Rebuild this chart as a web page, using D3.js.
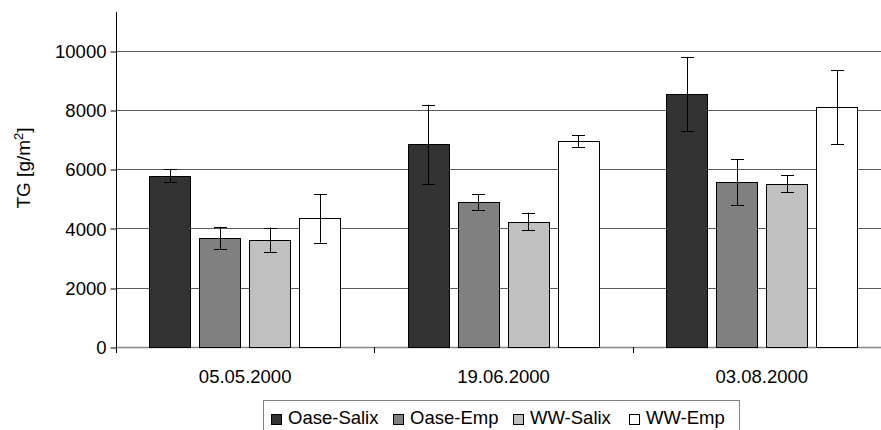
<!DOCTYPE html>
<html lang="en">
<head>
  <meta charset="UTF-8">
  <title>TG</title>
  <style>
    * { margin: 0; padding: 0; box-sizing: border-box; }
    body { background: #fff; font-family: "Liberation Sans", Arial, sans-serif; }
    svg text { font-family: "Liberation Sans", Arial, sans-serif; fill: #000; }
  </style>
</head>
<body>
  <div id="chart"></div>
  <script src="https://d3js.org/d3.v7.min.js"></script>
  <script>
    // data
    const dates = ["05.05.2000", "19.06.2000", "03.08.2000"];
    const series = ["Oase-Salix", "Oase-Emp", "WW-Salix", "WW-Emp"];
    const colors = ["#333333", "#808080", "#c0c0c0", "#ffffff"];
    // mean values per series, one entry per date
    const means = [
      [5780, 6840, 8530],
      [3680, 4880, 5560],
      [3620, 4230, 5510],
      [4340, 6940, 8100]
    ];
    // error (+/-) per series, one entry per date
    const errors = [
      [230, 1330, 1250],
      [375, 275, 780],
      [410, 300, 290],
      [820, 200, 1250]
    ];
    const yTicks = [0, 2000, 4000, 6000, 8000, 10000];

    const width = 881, height = 430;
    const plotLeft = 116, plotRight = 891, plotTop = 12, plotBottom = 347;

    const svg = d3.select("#chart").append("svg")
      .attr("width", width)
      .attr("height", height);

    const x = d3.scaleBand().domain(dates).range([plotLeft, plotRight]);
    const xSub = d3.scaleBand().domain(series)
      .range([33.3, 33.3 + 191.3])
      .paddingInner(0.174);
    const y = d3.scaleLinear().domain([0, 11300]).range([plotBottom, plotTop]);

    // gridlines (the zero line is lighter and a bit thicker)
    svg.append("g")
      .selectAll("line")
      .data(yTicks)
      .join("line")
      .attr("x1", plotLeft).attr("x2", width)
      .attr("y1", d => Math.round(y(d)) + 0.5)
      .attr("y2", d => Math.round(y(d)) + 0.5)
      .attr("stroke", d => d === 0 ? "#888" : "#5a5a5a")
      .attr("stroke-width", d => d === 0 ? 1.6 : 1.2);

    // y axis
    const yAxis = svg.append("g")
      .attr("transform", `translate(${plotLeft + 0.5},0)`)
      .call(d3.axisLeft(y).tickValues(yTicks).tickSize(6).tickPadding(4).tickFormat(d3.format("d")));
    yAxis.select(".domain").remove();
    yAxis.selectAll(".tick line").attr("stroke", "#000")
      .attr("transform", d => `translate(0,${Math.round(y(d)) + 0.5 - y(d)})`);
    yAxis.selectAll(".tick text")
      .attr("font-size", "18.5px")
      .attr("dy", "0.36em");
    svg.append("line")
      .attr("x1", plotLeft + 0.5).attr("x2", plotLeft + 0.5)
      .attr("y1", plotTop).attr("y2", plotBottom + 6)
      .attr("stroke", "#000");

    // category ticks and labels
    svg.append("g")
      .selectAll("line")
      .data(dates.slice(1))
      .join("line")
      .attr("x1", d => Math.round(x(d)) + 0.5)
      .attr("x2", d => Math.round(x(d)) + 0.5)
      .attr("y1", plotBottom).attr("y2", plotBottom + 6)
      .attr("stroke", "#000");

    svg.append("g")
      .selectAll("text")
      .data(dates)
      .join("text")
      .attr("x", d => x(d) + x.bandwidth() / 2)
      .attr("y", 383)
      .attr("text-anchor", "middle")
      .attr("font-size", "18.5px")
      .text(d => d);

    // bars
    const rows = [];
    series.forEach((s, i) => {
      dates.forEach((d, j) => {
        rows.push({ s, i, d, v: means[i][j], e: errors[i][j] });
      });
    });

    svg.append("g")
      .selectAll("rect")
      .data(rows)
      .join("rect")
      .attr("x", r => Math.round(x(r.d) + xSub(r.s)) + 0.5)
      .attr("y", r => Math.round(y(r.v)) + 0.5)
      .attr("width", Math.round(xSub.bandwidth()))
      .attr("height", r => Math.round(y(0)) - Math.round(y(r.v)))
      .attr("fill", r => colors[r.i])
      .attr("stroke", "#000")
      .attr("stroke-width", 1);

    // error bars
    const eb = svg.append("g").attr("stroke", "#000").attr("stroke-width", 1);
    const cx = r => Math.round(x(r.d) + xSub(r.s) + xSub.bandwidth() / 2) + 0.5;
    eb.selectAll("line.v")
      .data(rows)
      .join("line")
      .attr("class", "v")
      .attr("x1", cx).attr("x2", cx)
      .attr("y1", r => y(r.v + r.e)).attr("y2", r => y(r.v - r.e));
    eb.selectAll("line.t")
      .data(rows)
      .join("line")
      .attr("class", "t")
      .attr("x1", r => cx(r) - 6.5).attr("x2", r => cx(r) + 6.5)
      .attr("y1", r => Math.round(y(r.v + r.e)) + 0.5)
      .attr("y2", r => Math.round(y(r.v + r.e)) + 0.5);
    eb.selectAll("line.b")
      .data(rows)
      .join("line")
      .attr("class", "b")
      .attr("x1", r => cx(r) - 6.5).attr("x2", r => cx(r) + 6.5)
      .attr("y1", r => Math.round(y(r.v - r.e)) + 0.5)
      .attr("y2", r => Math.round(y(r.v - r.e)) + 0.5);

    // y title
    const title = svg.append("text")
      .attr("transform", "translate(30,168) rotate(-90)")
      .attr("text-anchor", "middle")
      .attr("font-size", "19px");
    title.append("tspan").text("TG [g/m");
    title.append("tspan").attr("font-size", "13px").attr("dy", "-7").text("2");
    title.append("tspan").attr("dy", "7").text("]");

    // legend
    svg.append("rect")
      .attr("x", 263.5).attr("y", 400.5)
      .attr("width", 476).attr("height", 40)
      .attr("fill", "#fff")
      .attr("stroke", "#808080");

    const legendX = [271, 393, 513, 629];
    const lg = svg.append("g")
      .selectAll("g")
      .data(series)
      .join("g")
      .attr("transform", (d, i) => `translate(${legendX[i]},0)`);
    lg.append("rect")
      .attr("x", 0.5).attr("y", 414.5)
      .attr("width", 10).attr("height", 10)
      .attr("fill", (d, i) => colors[i])
      .attr("stroke", "#000");
    lg.append("text")
      .attr("x", 17).attr("y", 423.5)
      .attr("font-size", "18.5px")
      .text(d => d);
  </script>
</body>
</html>
